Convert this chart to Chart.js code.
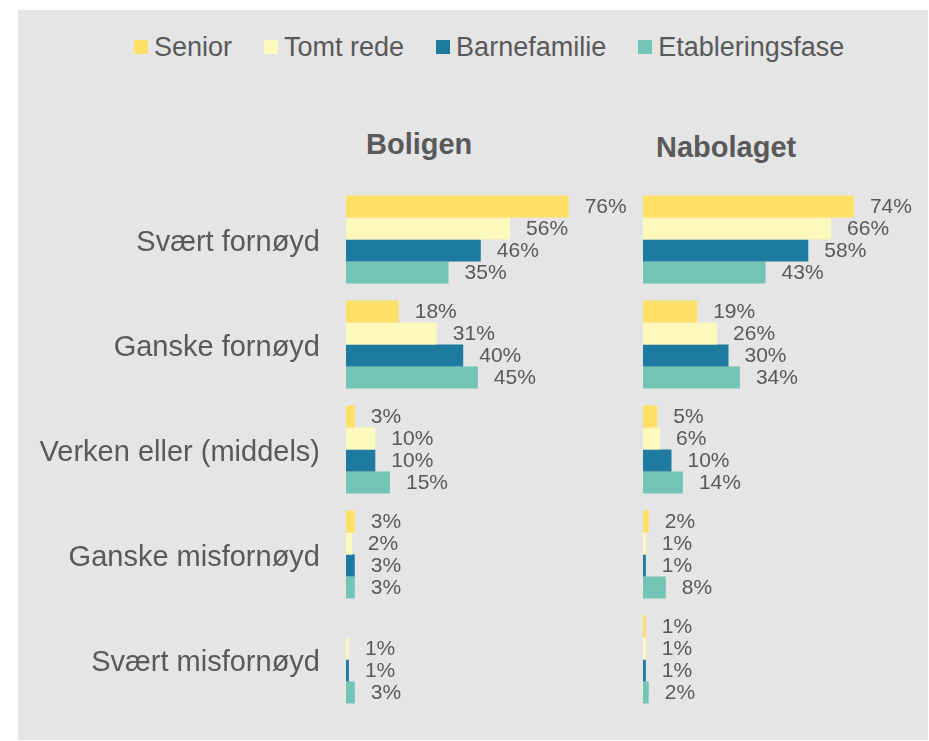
<!DOCTYPE html>
<html>
<head>
<meta charset="utf-8">
<script src="https://cdn.jsdelivr.net/npm/chart.js@4/dist/chart.umd.min.js"></script>
<style>
  body { margin: 0; background: #fff; font-family: "Liberation Sans", Arial, sans-serif; }
  #panel { position: absolute; left: 18px; top: 10px; width: 910px; height: 730px; background: #e5e5e5; }
  #legend { position: absolute; left: 134px; top: 31px; display: flex; gap: 32px; font-size: 27px; color: #595959; line-height: 32px; }
  #legend span.item { display: flex; align-items: center; }
  #legend i { display: inline-block; width: 14px; height: 14px; margin-right: 6px; }
  .title { position: absolute; font-size: 29px; font-weight: bold; color: #595959; line-height: 32px; }
  canvas { position: absolute; }
</style>
</head>
<body>
<div id="panel"></div>
<div id="legend"></div>
<div class="title" style="left:366px; top:128px;">Boligen</div>
<div class="title" style="left:656px; top:131px;">Nabolaget</div>
<canvas id="bolig" width="621" height="525" style="left:18px; top:187px;"></canvas>
<canvas id="nabo" width="285" height="525" style="left:643px; top:187px;"></canvas>
<script>
const categories = ["Svært fornøyd", "Ganske fornøyd", "Verken eller (middels)", "Ganske misfornøyd", "Svært misfornøyd"];
const seriesNames = ["Senior", "Tomt rede", "Barnefamilie", "Etableringsfase"];
const colors = ["#ffe066", "#fdf8bc", "#1f7aa0", "#72c4b4"];

// Boligen (%)
const boligSenior = [76, 18, 3, 3, null];
const boligTomtRede = [56, 31, 10, 2, 1];
const boligBarnefamilie = [46, 40, 10, 3, 1];
const boligEtablering = [35, 45, 15, 3, 3];

// Nabolaget (%)
const naboSenior = [74, 19, 5, 2, 1];
const naboTomtRede = [66, 26, 6, 1, 1];
const naboBarnefamilie = [58, 30, 10, 1, 1];
const naboEtablering = [43, 34, 14, 8, 2];

const textColor = "#595959";
const fontFamily = "'Liberation Sans', Arial, sans-serif";

// legend
const legendEl = document.getElementById("legend");
seriesNames.forEach((name, i) => {
	const item = document.createElement("span");
	item.className = "item";
	item.innerHTML = '<i style="background:' + colors[i] + '"></i>' + name;
	legendEl.appendChild(item);
});

// draws "x%" to the right of each bar
const valueLabels = {
	id: "valueLabels",
	afterDatasetsDraw(chart) {
		const ctx = chart.ctx;
		ctx.save();
		ctx.font = "21px " + fontFamily;
		ctx.fillStyle = textColor;
		ctx.textAlign = "left";
		ctx.textBaseline = "middle";
		chart.data.datasets.forEach((ds, di) => {
			const meta = chart.getDatasetMeta(di);
			meta.data.forEach((bar, i) => {
				if (ds.data[i] == null) return;
				ctx.fillText(ds.data[i] + "%", bar.x + 16, bar.y + 1);
			});
		});
		ctx.restore();
	},
};

function makeChart(id, data, showLabels) {
	const ctx = document.getElementById(id).getContext("2d");
	return new Chart(ctx, {
		type: "bar",
		data: {
			labels: categories,
			datasets: data.map((d, i) => ({
				label: seriesNames[i],
				data: d,
				backgroundColor: colors[i],
				borderWidth: 0,
				categoryPercentage: 0.838,
				barPercentage: 1,
			})),
		},
		options: {
			indexAxis: "y",
			responsive: false,
			animation: false,
			devicePixelRatio: 1,
			layout: { padding: 0 },
			plugins: {
				legend: { display: false },
				tooltip: { enabled: false },
			},
			scales: {
				x: { display: false, min: 0, max: 100 },
				y: {
					display: showLabels,
					grid: { display: false, drawTicks: false },
					border: { display: false },
					ticks: {
						color: textColor,
						padding: 26,
						labelOffset: 3,
						font: { size: 29, family: fontFamily },
					},
					afterFit: (scale) => {
						// keep the label column fixed and stop it eating vertical space
						if (showLabels) scale.width = 328;
						scale.paddingTop = 0;
						scale.paddingBottom = 0;
					},
				},
			},
		},
		plugins: [valueLabels],
	});
}

makeChart("bolig", [boligSenior, boligTomtRede, boligBarnefamilie, boligEtablering], true);
makeChart("nabo", [naboSenior, naboTomtRede, naboBarnefamilie, naboEtablering], false);
</script>
</body>
</html>
